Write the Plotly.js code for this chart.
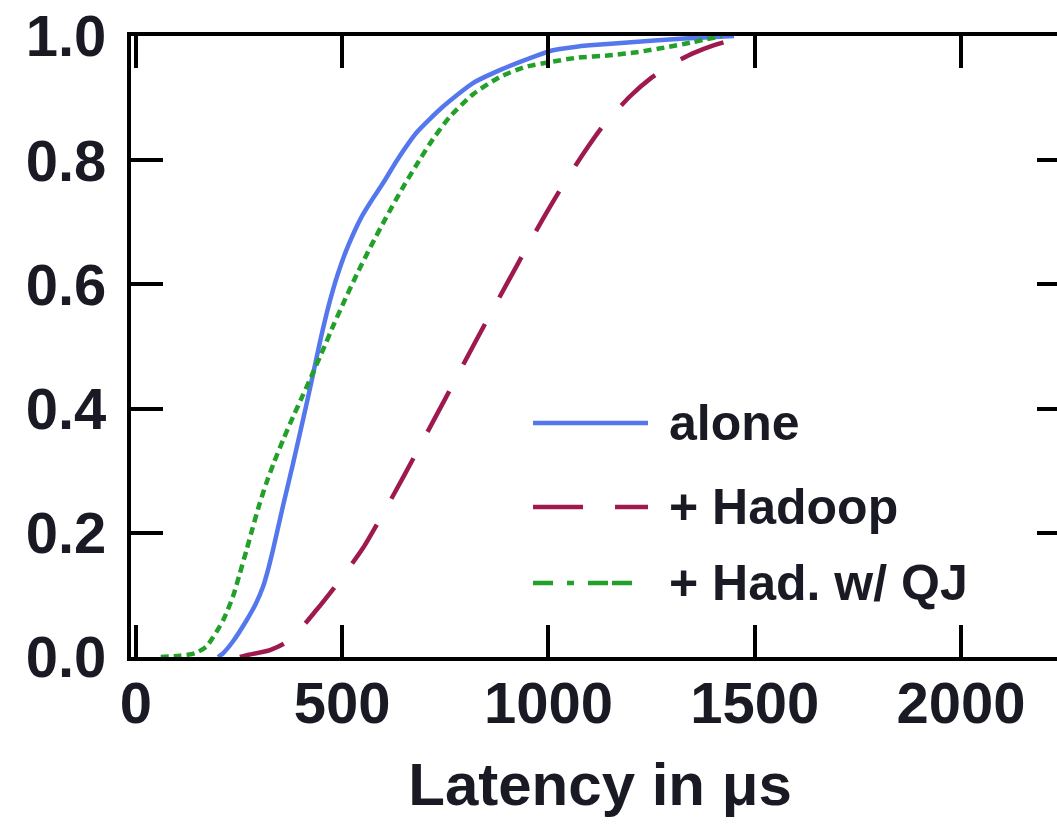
<!DOCTYPE html>
<html>
<head>
<meta charset="utf-8">
<script src="https://cdn.plot.ly/plotly-3.0.1.min.js"></script>
<style>
  html, body { margin: 0; padding: 0; overflow: hidden; background: #fff; }
  #chart { width: 1075px; height: 828px; }
</style>
</head>
<body>
<div id="chart"></div>
<script>
// Latency (µs) vs cumulative fraction
const aloneX = [199, 211, 235, 269, 290, 308, 320, 332, 356, 381, 405, 427, 447, 463, 478, 490, 507, 526, 548, 572, 600, 633, 681, 744, 817, 882, 962, 1011, 1060, 1100, 1200, 1330, 1450];
const aloneY = [0, 0.006, 0.025, 0.060, 0.085, 0.113, 0.140, 0.172, 0.242, 0.312, 0.382, 0.448, 0.510, 0.555, 0.592, 0.618, 0.650, 0.680, 0.710, 0.736, 0.764, 0.800, 0.845, 0.886, 0.924, 0.945, 0.966, 0.977, 0.982, 0.985, 0.990, 0.996, 1.0];

const hadoopX = [252, 269, 325, 373, 438, 495, 550, 600, 650, 700, 750, 800, 850, 900, 948, 987, 1028, 1084, 1132, 1198, 1250, 1300, 1350, 1400, 1447, 1490];
const hadoopY = [0, 0.003, 0.011, 0.027, 0.076, 0.124, 0.175, 0.232, 0.292, 0.354, 0.416, 0.479, 0.541, 0.602, 0.660, 0.706, 0.752, 0.810, 0.855, 0.903, 0.933, 0.955, 0.972, 0.985, 0.994, 1.0];

const qjX = [60, 107, 143, 171, 212, 236, 252, 268, 283, 298, 315, 335, 357, 381, 405, 430, 455, 480, 505, 536, 570, 605, 647, 690, 720, 761, 817, 882, 943, 1004, 1069, 1149, 1215, 1287, 1350, 1420];
const qjY = [0, 0.002, 0.006, 0.017, 0.060, 0.099, 0.135, 0.172, 0.208, 0.243, 0.278, 0.314, 0.350, 0.387, 0.422, 0.459, 0.497, 0.536, 0.573, 0.617, 0.662, 0.706, 0.756, 0.803, 0.834, 0.870, 0.906, 0.934, 0.950, 0.958, 0.965, 0.969, 0.974, 0.982, 0.990, 1.0];

const seriesNames = ['alone', '+ Hadoop', '+ Had. w/ QJ'];
const seriesColors = ['#5577ee', '#9e1a4e', '#22a02a'];
const seriesDash = ['solid', '46px,30px', '8px,5px'];
const legendDash = ['solid', '50px,32px', '20px,14px,7px,14px,20px,4px,20px'];

const xTickVals = [0, 500, 1000, 1500, 2000];
const xTickText = ['0', '500', '1000', '1500', '2000'];
const yTickVals = [0, 0.2, 0.4, 0.6, 0.8, 1.0];
const yTickText = ['0.0', '0.2', '0.4', '0.6', '0.8', '1.0'];
const xTitle = 'Latency in \u03bcs';

const FONT = 'Liberation Sans, Arial, Helvetica, sans-serif';
const INK = '#1a1a24';

const traces = [
  {x: aloneX, y: aloneY},
  {x: hadoopX, y: hadoopY},
  {x: qjX, y: qjY}
].map((d, i) => ({
  type: 'scatter', mode: 'lines', x: d.x, y: d.y, name: seriesNames[i],
  line: {color: seriesColors[i], width: 4.5, dash: seriesDash[i], shape: 'spline', smoothing: 0.6},
  showlegend: false, hoverinfo: 'skip'
}));

// legend key drawn manually (long sample lines as in the reference)
const legRowsY = [0.377, 0.2415, 0.119];
const shapes = [];
const annotations = [];
seriesNames.forEach((n, i) => {
  shapes.push({type: 'line', xref: 'paper', yref: 'paper',
    x0: 0.4286, x1: 0.5512, y0: legRowsY[i], y1: legRowsY[i],
    line: {color: seriesColors[i], width: 4.5, dash: legendDash[i]}});
  annotations.push({xref: 'paper', yref: 'paper', x: 0.5715, y: legRowsY[i],
    xanchor: 'left', yanchor: 'middle', text: '<b>' + n + '</b>', showarrow: false,
    font: {family: FONT, size: 50, color: INK}});
});

const axisCommon = {
  showline: true, linecolor: '#000', linewidth: 4, mirror: 'ticks',
  ticks: 'inside', ticklen: 32, tickwidth: 4, tickcolor: '#000',
  showgrid: false, zeroline: false,
  tickfont: {family: FONT, size: 58, color: INK, weight: 'bold'}
};

const layout = {
  width: 1075, height: 828,
  margin: {l: 131, r: 6, t: 36, b: 171},
  paper_bgcolor: '#fff', plot_bgcolor: '#fff',
  xaxis: Object.assign({}, axisCommon, {
    range: [-12, 2262], tickmode: 'array', tickvals: xTickVals, ticktext: xTickText,
    ticklabelstandoff: -8,
    title: {text: xTitle, font: {family: FONT, size: 60, color: INK, weight: 'bold'}, standoff: 30}
  }),
  yaxis: Object.assign({}, axisCommon, {
    range: [0, 1], tickmode: 'array', tickvals: yTickVals, ticktext: yTickText,
    ticklabelstandoff: 9
  }),
  shapes: shapes,
  annotations: annotations,
  showlegend: false
};

Plotly.newPlot('chart', traces, layout, {displayModeBar: false, staticPlot: true});
</script>
</body>
</html>
